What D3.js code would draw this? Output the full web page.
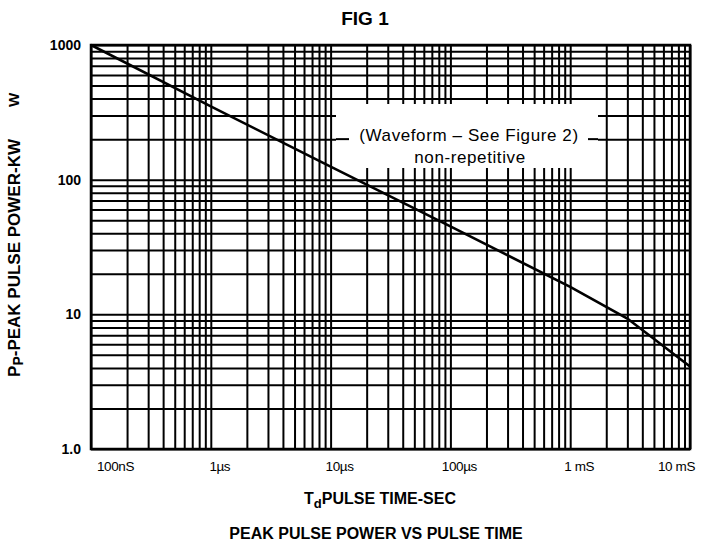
<!DOCTYPE html>
<html><head><meta charset="utf-8">
<script src="https://cdn.jsdelivr.net/npm/d3@7/dist/d3.min.js"></script>
<style>
body{margin:0;background:#fff;}
svg{display:block;}
text{fill:#000;font-family:"Liberation Sans",Arial,Helvetica,sans-serif;}
.narrow{font-family:"Liberation Sans Narrow","Arial Narrow","Liberation Sans",sans-serif;}
</style></head>
<body>
<script>
// ---- data ----
const timeSec = [1e-7, 1e-6, 1e-5, 1e-4, 1e-3, 3e-3, 1e-2];
const powerKW = [1000, 350, 125, 45, 16, 9.3, 4.1];
const xTickValues = [1e-7, 1e-6, 1e-5, 1e-4, 1e-3, 1e-2];
const xTickLabels = ["100nS", "1\u00B5s", "10\u00B5s", "100\u00B5s", "1 mS", "10 mS"];
const yTickValues = [1000, 100, 10, 1];
const yTickLabels = ["1000", "100", "10", "1.0"];
const titleText = "FIG 1";
const xTitle = ["T", "d", "PULSE TIME-SEC"];
const yTitle = ["P", "P", "-PEAK PULSE POWER-KW"];
const subTitle = "PEAK PULSE POWER VS PULSE TIME";
const noteLines = ["(Waveform \u2013 See Figure 2)", "non-repetitive"];

const W = 720, H = 550;
const svg = d3.select("body").append("svg").attr("width", W).attr("height", H);

const x = d3.scaleLog().domain([1e-7, 1e-2]).range([91, 690]);
const y = d3.scaleLog().domain([1, 1000]).range([449, 45]);

// minor grid values
const xGrid = [];
for (let e = -7; e < -2; e++) for (let k = 1; k <= 9; k++) xGrid.push(k * Math.pow(10, e));
xGrid.push(1e-2);
const yGrid = [];
for (let e = 0; e < 3; e++) for (let k = 1; k <= 9; k++) yGrid.push(k * Math.pow(10, e));
yGrid.push(1000);

// grid via axes
const gx = svg.append("g").attr("transform", `translate(0,${y(1)})`)
  .call(d3.axisBottom(x).tickValues(xGrid).tickSize(-(y(1) - y(1000))).tickFormat(""));
gx.select(".domain").remove();
gx.selectAll(".tick line").attr("stroke", "#000").attr("stroke-width", 2);

const gy = svg.append("g").attr("transform", `translate(${x(1e-7)},0)`)
  .call(d3.axisLeft(y).tickValues(yGrid).tickSize(-(x(1e-2) - x(1e-7))).tickFormat(""));
gy.select(".domain").remove();
gy.selectAll(".tick line").attr("stroke", "#000").attr("stroke-width", 2);

// annotation mask
const maskX0 = 336, maskX1 = 598, maskY0 = 104, maskY1 = 168;
svg.append("rect").attr("x", maskX0).attr("y", maskY0)
  .attr("width", maskX1 - maskX0).attr("height", maskY1 - maskY0).attr("fill", "#fff");
// short visible pieces of the 200 kW line beside the note
svg.append("line").attr("x1", maskX0).attr("x2", maskX0 + 13)
  .attr("y1", y(200)).attr("y2", y(200)).attr("stroke", "#000").attr("stroke-width", 2);
svg.append("line").attr("x1", maskX1 - 10).attr("x2", maskX1)
  .attr("y1", y(200)).attr("y2", y(200)).attr("stroke", "#000").attr("stroke-width", 2);

// frame
svg.append("rect").attr("x", x(1e-7)).attr("y", y(1000))
  .attr("width", x(1e-2) - x(1e-7)).attr("height", y(1) - y(1000))
  .attr("fill", "none").attr("stroke", "#000").attr("stroke-width", 2.5);

// curve
const line = d3.line().x((d, i) => x(timeSec[i])).y((d, i) => y(powerKW[i]));
svg.append("path").datum(powerKW).attr("d", line)
  .attr("fill", "none").attr("stroke", "#000").attr("stroke-width", 2.6);

// note text
svg.append("text").attr("x", 469).attr("y", 141).attr("text-anchor", "middle")
  .attr("font-size", 17).attr("letter-spacing", 0.6).text(noteLines[0]);
svg.append("text").attr("x", 470).attr("y", 163).attr("text-anchor", "middle")
  .attr("font-size", 17).attr("letter-spacing", 0.6).text(noteLines[1]);

// y tick labels
svg.selectAll(".ylab").data(yTickValues).enter().append("text")
  .attr("class", "narrow")
  .attr("x", 81).attr("y", d => y(d) + 5).attr("text-anchor", "end")
  .attr("font-size", 14).attr("font-weight", "bold")
  .text((d, i) => yTickLabels[i]);

// x tick labels
svg.selectAll(".xlab").data(xTickValues).enter().append("text")
  .attr("class", "narrow")
  .attr("x", (d, i) => i === 0 ? x(d) + 6 : (i === xTickValues.length - 1 ? x(d) + 5 : x(d) + 9))
  .attr("y", 471)
  .attr("text-anchor", (d, i) => i === 0 ? "start" : (i === xTickValues.length - 1 ? "end" : "middle"))
  .attr("font-size", 13.5).attr("letter-spacing", -0.4)
  .text((d, i) => xTickLabels[i]);

// title
svg.append("text").attr("x", 365).attr("y", 25).attr("text-anchor", "middle")
  .attr("font-size", 19).attr("font-weight", "bold").text(titleText);

// x axis title
const xt = svg.append("text").attr("x", 380).attr("y", 504).attr("text-anchor", "middle")
  .attr("font-size", 16).attr("font-weight", "bold");
xt.append("tspan").text(xTitle[0]);
xt.append("tspan").attr("font-size", 13).attr("dy", 4).text(xTitle[1]);
xt.append("tspan").attr("dy", -4).text(xTitle[2]);

// subtitle
svg.append("text").attr("x", 376).attr("y", 539).attr("text-anchor", "middle")
  .attr("font-size", 16).attr("font-weight", "bold").text(subTitle);

// y axis title
const yt = svg.append("text").attr("transform", "translate(20,258) rotate(-90)")
  .attr("text-anchor", "middle").attr("font-size", 17).attr("font-weight", "bold");
yt.append("tspan").text(yTitle[0]);
yt.append("tspan").attr("font-size", 14).attr("dy", 3).text(yTitle[1]);
yt.append("tspan").attr("dy", -3).text(yTitle[2]);

// stray mark in the scan
svg.append("text").attr("transform", "translate(19,100) rotate(-90)")
  .attr("text-anchor", "middle").attr("font-size", 15).attr("font-weight", "bold").text("W");
</script>
</body></html>
